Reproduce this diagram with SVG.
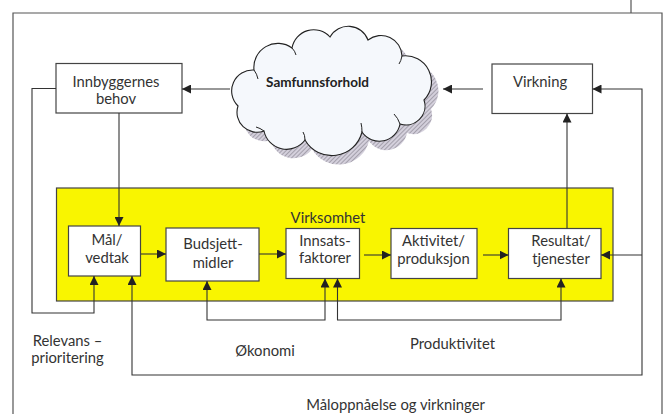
<svg xmlns="http://www.w3.org/2000/svg" width="665" height="414" viewBox="0 0 665 414">
  <style>
    .frame { fill: none; stroke: #555; stroke-width: 1.2; }
    .box { fill: #ffffff; stroke: #444; stroke-width: 1.2; }
    .lbl { font-family: Lato, "Open Sans", sans-serif; font-size: 14.8px; fill: #333; text-anchor: middle; }
    .wire { fill: none; stroke: #333; stroke-width: 1.1; }
  </style>
  <defs>
    <marker id="arrow" viewBox="0 0 10 10" refX="10" refY="5" markerWidth="9" markerHeight="9" markerUnits="userSpaceOnUse" orient="auto-start-reverse">
      <path d="M0,0 L10,5 L0,10 z" fill="#222"/>
    </marker>
    <pattern id="hatch" width="3" height="3" patternUnits="userSpaceOnUse" patternTransform="rotate(45)">
      <rect width="3" height="3" fill="#d4d0dc"/>
      <line x1="0" y1="0" x2="0" y2="3" stroke="#8f8b98" stroke-width="1.4"/>
    </pattern>
    <path id="cloudShape" d="M238,106 A21,21 0 0 1 254,70 A24,24 0 0 1 292,48 A22,22 0 0 1 330,37 A21,21 0 0 1 368,40 A21,21 0 0 1 402,56 A26,26 0 0 1 424,100 A19,19 0 0 1 400,124 A21,21 0 0 1 362,132 A31,31 0 0 1 305,140 A23,23 0 0 1 264,131 A20,20 0 0 1 238,106 Z"/>
  </defs>

  <rect width="665" height="414" fill="#ffffff"/>

  <!-- page frame -->
  <path class="frame" d="M13,414 V13 H662 V414"/>
  <line class="frame" x1="631" y1="0" x2="631" y2="13"/>

  <!-- organisation area -->
  <g id="virksomhet">
    <rect x="56.5" y="188" width="556.5" height="113" fill="#f9f500" stroke="#444" stroke-width="1.2"/>
    <text class="lbl" x="328" y="222.5">Virksomhet</text>
  </g>

  <!-- society cloud -->
  <g id="samfunnsforhold">
    <use href="#cloudShape" transform="translate(7,9)" fill="url(#hatch)"/>
    <use href="#cloudShape" fill="#f5f8fc" stroke="#222" stroke-width="1.1"/>
    <g fill="none" stroke="#222" stroke-width="1">
      <path d="M254,70 q3,4 4,9"/>
      <path d="M292,48 q3,3 4,7"/>
      <path d="M402,56 q-1,5 -3,8"/>
      <path d="M400,124 q-2,-6 -6,-10"/>
      <path d="M362,132 q0,-5 -1,-9"/>
      <path d="M305,140 q0,-5 -2,-8"/>
      <path d="M264,131 q-4,-3 -8,-4"/>
    </g>
    <text x="317.5" y="87" font-family="Lato, 'Open Sans', sans-serif" font-size="13.5px" font-weight="bold" fill="#222" text-anchor="middle">Samfunnsforhold</text>
  </g>

  <g id="innbyggernes-behov">
    <rect class="box" x="56" y="63.5" width="126" height="49.5"/>
    <text class="lbl" x="116" y="86.5">Innbyggernes</text>
    <text class="lbl" x="116" y="103.5">behov</text>
  </g>

  <g id="virkning">
    <rect class="box" x="492" y="64" width="100.5" height="49.5"/>
    <text class="lbl" x="540" y="86.5">Virkning</text>
  </g>

  <g id="maal-vedtak">
    <rect class="box" x="68.5" y="226" width="72" height="50"/>
    <text class="lbl" x="107" y="244.5">Mål/</text>
    <text class="lbl" x="107" y="262.5">vedtak</text>
  </g>

  <g id="budsjettmidler">
    <rect class="box" x="166" y="228" width="93" height="53"/>
    <text class="lbl" x="213" y="248.5">Budsjett-</text>
    <text class="lbl" x="213" y="267.5">midler</text>
  </g>

  <g id="innsatsfaktorer">
    <rect class="box" x="286" y="228.5" width="73.5" height="50"/>
    <text class="lbl" x="325" y="245.5">Innsats-</text>
    <text class="lbl" x="325" y="263">faktorer</text>
  </g>

  <g id="aktivitet-produksjon">
    <rect class="box" x="391" y="228.5" width="86" height="50"/>
    <text class="lbl" x="433.5" y="245.5">Aktivitet/</text>
    <text class="lbl" x="433.5" y="263.5">produksjon</text>
  </g>

  <g id="resultat-tjenester">
    <rect class="box" x="508.5" y="228.5" width="92.5" height="50"/>
    <text class="lbl" x="561" y="245.5">Resultat/</text>
    <text class="lbl" x="561" y="263.5">tjenester</text>
  </g>

  <!-- connectors -->
  <g id="connectors">
    <line class="wire" x1="230" y1="89" x2="182" y2="89" stroke="#2b2b66" marker-end="url(#arrow)"/>
    <line class="wire" x1="483" y1="89" x2="443" y2="89" stroke="#7a2626" stroke-width="1.4" marker-end="url(#arrow)"/>
    <line class="wire" x1="119" y1="113" x2="119" y2="226" marker-end="url(#arrow)"/>
    <path class="wire" d="M56,88.5 H32 V313 H94 V276" marker-end="url(#arrow)"/>
    <line class="wire" x1="141" y1="254" x2="166" y2="254" marker-end="url(#arrow)"/>
    <line class="wire" x1="259" y1="254" x2="286" y2="254" marker-end="url(#arrow)"/>
    <line class="wire" x1="364" y1="255" x2="391" y2="255" marker-end="url(#arrow)"/>
    <line class="wire" x1="483" y1="255" x2="508.5" y2="255" marker-end="url(#arrow)"/>
    <line class="wire" x1="567" y1="228.5" x2="567" y2="113.5" marker-end="url(#arrow)"/>
    <path class="wire" d="M207,281 V320 H325 V278.5" marker-start="url(#arrow)" marker-end="url(#arrow)"/>
    <path class="wire" d="M337.5,278.5 V320 H561 V278.5" marker-start="url(#arrow)" marker-end="url(#arrow)"/>
    <path class="wire" d="M592.5,89 H642 V375 H132 V276" marker-start="url(#arrow)" marker-end="url(#arrow)"/>
    <line class="wire" x1="642" y1="255" x2="601" y2="255" marker-end="url(#arrow)"/>
  </g>

  <!-- loop labels -->
  <g id="labels">
    <text class="lbl" x="67.5" y="345.5">Relevans –</text>
    <text class="lbl" x="67.5" y="362.5">prioritering</text>
    <text class="lbl" x="265" y="355.5">Økonomi</text>
    <text class="lbl" x="452.5" y="349">Produktivitet</text>
    <text class="lbl" x="395.5" y="410">Måloppnåelse og virkninger</text>
  </g>
</svg>
